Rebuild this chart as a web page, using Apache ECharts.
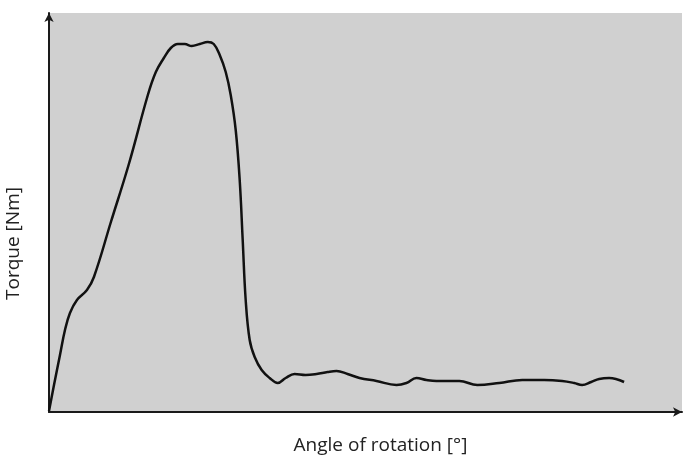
<!DOCTYPE html>
<html>
<head>
<meta charset="utf-8">
<script src="https://cdn.jsdelivr.net/npm/echarts@6/dist/echarts.min.js"></script>
<style>
  html, body { margin: 0; padding: 0; background: #fff; }
  #chart { width: 684px; height: 458px; }
</style>
</head>
<body>
<div id="chart"></div>
<script>
// values (arbitrary units, no ticks on the original)
const angle = [0, 5, 11, 16, 21, 28, 38, 45, 62, 80, 99, 107, 115, 122, 129, 136, 143,
  151, 159, 165, 171, 177, 182, 187, 191, 194, 197, 201, 206, 213, 221, 229, 237, 246, 257, 268,
  279, 288, 299, 311, 328, 348, 358, 368, 378, 388, 411, 429, 451, 474, 496, 514, 526, 534, 543,
  551, 561, 576];
const torque = [1, 27, 57, 82, 99, 112, 122, 135, 190, 248, 317, 340, 354, 364, 368,
  368, 366, 368, 370, 368, 357, 340, 317, 282, 232, 172, 112, 72, 55, 42, 34, 29, 34, 38, 37, 38,
  40, 41, 38, 34, 31, 27, 29, 34, 32, 31, 31, 27, 29, 32, 32, 31, 29, 27, 30, 33, 34, 30];
const xName = "Angle of rotation [°]";
const yName = "Torque [Nm]";

const chart = echarts.init(document.getElementById("chart"));
const axisColor = "#1a1a1a";
const nameFont = { fontFamily: "Open Sans", fontSize: 19, color: "#222" };

chart.setOption({
  animation: false,
  grid: {
    left: 49, right: 2, top: 13, bottom: 46,
    containLabel: false,
    outerBoundsMode: "none",
    show: true, backgroundColor: "#d0d0d0", borderWidth: 0
  },
  xAxis: {
    type: "value",
    min: 0,
    max: 634,
    name: xName,
    nameLocation: "middle",
    nameGap: 24,
    nameTextStyle: { ...nameFont, padding: [0, 0, 0, 30] },
    axisLine: {
      show: true,
      symbol: ["none", "arrow"],
      symbolSize: [7, 9],
      lineStyle: { color: axisColor, width: 2 }
    },
    axisTick: { show: false },
    axisLabel: { show: false },
    splitLine: { show: false }
  },
  yAxis: {
    type: "value",
    min: 0,
    max: 399,
    name: yName,
    nameLocation: "middle",
    nameGap: 26,
    nameTextStyle: { ...nameFont, padding: [0, 62, 0, 0] },
    axisLine: {
      show: true,
      symbol: ["none", "arrow"],
      symbolSize: [7, 9],
      lineStyle: { color: axisColor, width: 2 }
    },
    axisTick: { show: false },
    axisLabel: { show: false },
    splitLine: { show: false }
  },
  series: [
    {
      type: "line",
      data: angle.map((a, i) => [a, torque[i]]),
      smooth: 0.4,
      showSymbol: false,
      lineStyle: { color: "#111", width: 2.5 }
    }
  ]
});
</script>
</body>
</html>
